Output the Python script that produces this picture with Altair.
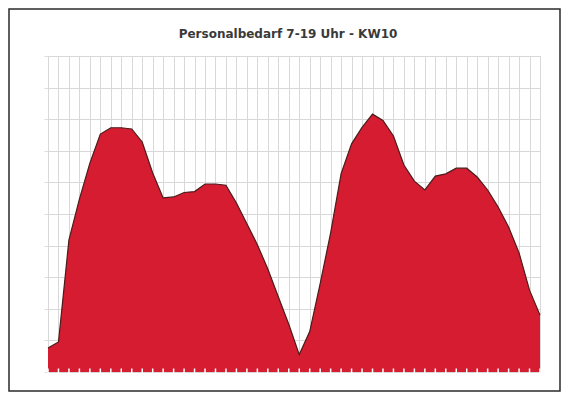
import altair as alt
import pandas as pd

# 15-minute slots from 7:00 to 18:45 (index 0..47)
slots = list(range(48))
staff = [0.76, 0.95, 4.18, 5.47, 6.61, 7.53, 7.73, 7.73, 7.69, 7.28,
         6.30, 5.51, 5.54, 5.68, 5.71, 5.95, 5.95, 5.91, 5.35, 4.69,
         4.03, 3.26, 2.38, 1.51, 0.55, 1.28, 2.80, 4.40, 6.28, 7.22,
         7.74, 8.16, 7.96, 7.47, 6.55, 6.04, 5.76, 6.20, 6.27, 6.45,
         6.45, 6.17, 5.76, 5.22, 4.59, 3.77, 2.59, 1.80]
y_ticks = list(range(11))
title_text = "Personalbedarf 7-19 Uhr - KW10"

df = pd.DataFrame({"slot": slots, "staff": staff})

W, H = 492, 316

xscale = alt.Scale(domain=[0, 47], nice=False)
yscale = alt.Scale(domain=[0, 10], nice=False)

x_axis = alt.Axis(values=slots, labels=False, ticks=False, domain=False,
                  grid=True, gridColor="#d8d8d8", gridWidth=1, title=None,
                  labelOverlap=False)
y_axis = alt.Axis(values=y_ticks, labels=False, ticks=True, tickSize=4,
                  tickColor="#dddddd", domain=False,
                  grid=True, gridColor="#d8d8d8", gridWidth=1, title=None)

area = alt.Chart(df).mark_area(
    color="#d61c30",
    opacity=1,
    line={"color": "#4a1c1c", "strokeWidth": 1.2},
    interpolate="linear",
).encode(
    x=alt.X("slot:Q", scale=xscale, axis=x_axis),
    y=alt.Y("staff:Q", scale=yscale, axis=y_axis),
)

notches = alt.Chart(df).mark_tick(
    orient="vertical", color="white", size=7, thickness=1.5, opacity=1
).encode(
    x=alt.X("slot:Q", scale=xscale, axis=x_axis),
    y=alt.value(H),
)

title = alt.Chart(alt.Data(values=[{"t": title_text}])).mark_text(
    font="DejaVu Sans", fontSize=12, fontWeight="bold", color="#3a3a3a",
    align="center", baseline="middle"
).encode(
    text="t:N",
    x=alt.value(W / 2 - 6),
    y=alt.value(-22),
)

frame = alt.Chart(alt.Data(values=[{"a": 1}])).mark_rect(
    filled=False, stroke="#2a2a2a", strokeWidth=1.5
).encode(
    x=alt.value(-39), x2=alt.value(512),
    y=alt.value(-47), y2=alt.value(335),
)

chart = alt.layer(area, notches, title, frame).properties(
    width=W, height=H,
    autosize=alt.AutoSizeParams(type="none"),
    padding={"left": 40, "top": 48, "right": 21, "bottom": 21},
).configure_view(stroke=None).configure(background="white")

chart.save("out.html", embed_options={"renderer": "svg", "actions": False})
